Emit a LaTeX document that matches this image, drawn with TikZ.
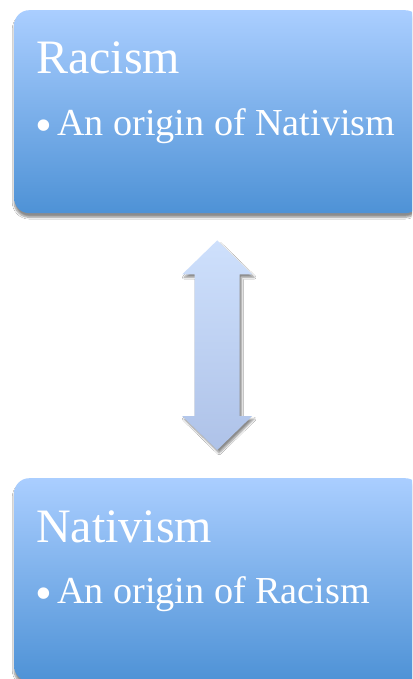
\documentclass[tikz,border=0pt]{standalone}
\usepackage{fontspec}
\setmainfont{Liberation Serif}
\usepackage{tikz}
\usetikzlibrary{calc,shadows.blur,positioning}
\definecolor{boxtop}{RGB}{170,206,255}
\definecolor{boxbot}{RGB}{78,146,214}
\definecolor{arrtop}{RGB}{206,224,252}
\definecolor{arrbot}{RGB}{174,194,232}
\newcommand{\bigdot}{{\fontsize{48}{48}\selectfont\raisebox{-6pt}{•}}\hspace{5pt}}
\tikzset{
  topic/.style    = {rectangle, rounded corners=15pt, top color=boxtop,
                     bottom color=boxbot, draw=none, minimum width=406pt,
                     minimum height=203pt, inner sep=0pt,
                     blur shadow={shadow xshift=0pt, shadow yshift=-4pt,
                                  shadow blur steps=8, shadow opacity=45}},
  title/.style    = {anchor=base west, text=white, inner sep=0pt,
                     font=\fontsize{48}{56}\selectfont},
  bullet/.style   = {anchor=base west, text=white, inner sep=0pt,
                     font=\fontsize{38.2}{44}\selectfont},
  fatarrow/.style = {top color=arrtop, bottom color=arrbot, draw=none,
                     blur shadow={shadow xshift=2pt, shadow yshift=-3pt,
                                  shadow blur steps=6, shadow opacity=45}}
}
\begin{document}
\begin{tikzpicture}[x=1pt,y=1pt]
\useasboundingbox (0,0) rectangle (412,-679);
\clip (0,0) rectangle (412,-679);
\fill[white] (0,0) rectangle (412,-679);
\node[topic, anchor=north west] (racism)   at (14,-10)  {};
\node[topic, anchor=north west] (nativism) at (14,-478) {};
\node[title]  (racismtitle)   at ($(racism.north west)+(22,-63.5)$)   {Racism};
\node[bullet] (racismitem)    at ($(racism.north west)+(21,-125.5)$)  {\bigdot An origin of Nativism};
\node[title]  (nativismtitle) at ($(nativism.north west)+(22,-64)$)   {Nativism};
\node[bullet] (nativismitem)  at ($(nativism.north west)+(21,-125)$)  {\bigdot An origin of Racism};
\coordinate (tipa) at ($(racism.south)+(0,-27)$);
\coordinate (tipb) at ($(nativism.north)+(0,28)$);
\path[fatarrow] (tipa) -- ++(35,-34) -- ++(-12.5,0) -- ($(tipb)+(22.5,34)$)
  -- ++(12.5,0) -- (tipb) -- ++(-35,34) -- ++(12.5,0)
  -- ($(tipa)+(-22.5,-34)$) -- ++(-12.5,0) -- cycle;
\end{tikzpicture}
\end{document}
